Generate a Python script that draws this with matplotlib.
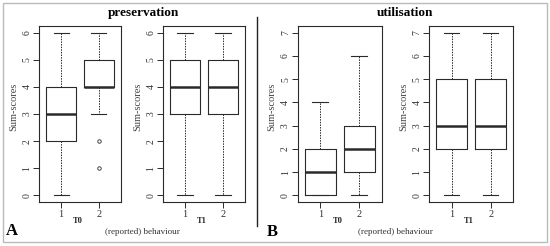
import matplotlib
matplotlib.use('Agg')
import matplotlib.pyplot as plt
from matplotlib.patches import Rectangle
from matplotlib.lines import Line2D

# group labels on the x axis
groups = ['1', '2']

# box statistics per panel: whislo, q1, med, q3, whishi, outliers
pres_t0_lo = [0, 3]
pres_t0_q1 = [2, 4]
pres_t0_med = [3, 4]
pres_t0_q3 = [4, 5]
pres_t0_hi = [6, 6]
pres_t0_fliers = [[], [2, 1]]

pres_t1_lo = [0, 0]
pres_t1_q1 = [3, 3]
pres_t1_med = [4, 4]
pres_t1_q3 = [5, 5]
pres_t1_hi = [6, 6]
pres_t1_fliers = [[], []]

util_t0_lo = [0, 0]
util_t0_q1 = [0, 1]
util_t0_med = [1, 2]
util_t0_q3 = [2, 3]
util_t0_hi = [4, 6]
util_t0_fliers = [[], []]

util_t1_lo = [0, 0]
util_t1_q1 = [2, 2]
util_t1_med = [3, 3]
util_t1_q3 = [5, 5]
util_t1_hi = [7, 7]
util_t1_fliers = [[], []]

pres_ticks = [0, 1, 2, 3, 4, 5, 6]
util_ticks = [0, 1, 2, 3, 4, 5, 6, 7]

W, H = 550, 246
plt.rcParams['font.family'] = ['Liberation Serif', 'DejaVu Serif']
fig = plt.figure(figsize=(W / 100, H / 100), dpi=100)

LC = '#2a2a2a'


def stats(lo, q1, med, q3, hi, fl):
    out = []
    for i in range(len(groups)):
        out.append(dict(whislo=lo[i], q1=q1[i], med=med[i], q3=q3[i],
                        whishi=hi[i], fliers=fl[i], label=groups[i]))
    return out


def panel(px, pw, st, ticks, tlabel):
    # px, pw in pixels; vertical extent shared
    ax = fig.add_axes([px / W, (H - 202) / H, pw / W, 176 / H])
    ax.bxp(st, positions=[1, 2], widths=0.8, showfliers=True,
           boxprops=dict(color=LC, linewidth=0.8),
           medianprops=dict(color=LC, linewidth=1.8),
           whiskerprops=dict(color=LC, linewidth=0.7, linestyle=(0, (1.5, 1.2))),
           capprops=dict(color=LC, linewidth=0.8),
           capwidths=0.4,
           flierprops=dict(marker='o', markersize=2.5, markerfacecolor='none',
                           markeredgecolor=LC, markeredgewidth=0.6))
    top = ticks[-1]
    pad = 0.04 * top
    ax.set_ylim(-pad, top + pad)
    ax.set_xlim(0.42, 2.58)
    ax.set_yticks(ticks)
    ax.set_yticklabels([str(t) for t in ticks], rotation=90, va='center',
                       fontsize=7, color='#333333')
    ax.set_xticks([1, 2])
    ax.set_xticklabels(groups, fontsize=7.5, color='#333333')
    ax.tick_params(axis='both', length=4, width=0.7, color=LC, pad=1.5)
    for s in ax.spines.values():
        s.set_color(LC)
        s.set_linewidth(0.8)
    ax.set_ylabel('Sum-scores', fontsize=7.5, color='#444444')
    ax.yaxis.set_label_coords(-21 / pw, 0.54)
    fig.text((px + pw / 2 - 2) / W, 1 - 221 / H, tlabel, fontsize=6,
             fontweight='bold', ha='center', va='center', color='#222222')
    return ax


panel(39.3, 81.4, stats(pres_t0_lo, pres_t0_q1, pres_t0_med, pres_t0_q3, pres_t0_hi, pres_t0_fliers),
      pres_ticks, 'T0')
panel(163, 82, stats(pres_t1_lo, pres_t1_q1, pres_t1_med, pres_t1_q3, pres_t1_hi, pres_t1_fliers),
      pres_ticks, 'T1')
panel(297.7, 84, stats(util_t0_lo, util_t0_q1, util_t0_med, util_t0_q3, util_t0_hi, util_t0_fliers),
      util_ticks, 'T0')
panel(429, 84.3, stats(util_t1_lo, util_t1_q1, util_t1_med, util_t1_q3, util_t1_hi, util_t1_fliers),
      util_ticks, 'T1')

# titles and panel letters
fig.text(143 / W, 1 - 13 / H, 'preservation', fontsize=9.5, fontweight='bold',
         ha='center', va='center')
fig.text(405 / W, 1 - 13 / H, 'utilisation', fontsize=9.5, fontweight='bold',
         ha='center', va='center')
fig.text(142 / W, 1 - 232 / H, '(reported) behaviour', fontsize=6.5,
         ha='center', va='center', color='#333333')
fig.text(395 / W, 1 - 232 / H, '(reported) behaviour', fontsize=6.5,
         ha='center', va='center', color='#333333')
fig.text(12 / W, 1 - 231 / H, 'A', fontsize=12, fontweight='bold',
         ha='center', va='center')
fig.text(272 / W, 1 - 232 / H, 'B', fontsize=12, fontweight='bold',
         ha='center', va='center')

# divider and outer frame
fig.add_artist(Line2D([257.3 / W, 257.3 / W], [1 - 17 / H, 1 - 226 / H],
                      color='#222222', linewidth=1.0))
fig.add_artist(Rectangle((3.3 / W, 1 - 242.3 / H), (546.7 - 3.3) / W, (242.3 - 3.3) / H,
                         fill=False, edgecolor='#bbbbbb', linewidth=1.0))

fig.savefig('out.png', dpi=100)
